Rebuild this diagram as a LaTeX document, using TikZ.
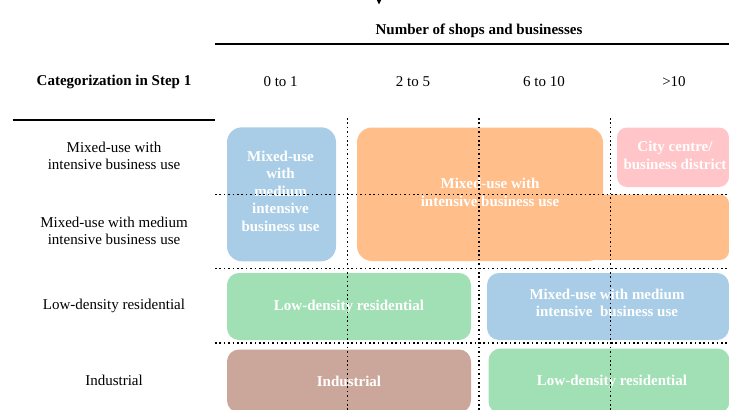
\documentclass[tikz,border=0pt]{standalone}
\usepackage{fontspec}
\setmainfont{Liberation Serif}
\usetikzlibrary{arrows.meta}
\definecolor{zoneblue}{HTML}{A9CDE6}
\definecolor{zoneorange}{HTML}{FFBE8A}
\definecolor{zonepink}{HTML}{FFC5C8}
\definecolor{zonegreen}{HTML}{A1DFB4}
\definecolor{zonebrown}{HTML}{CBA69A}
\begin{document}
\begin{tikzpicture}[x=1pt,y=-1pt,
  lbl/.style={font=\fontsize{15}{17}\selectfont, align=center, inner sep=0pt},
  head/.style={font=\fontsize{15}{17}\selectfont\bfseries, align=center, inner sep=0pt},
  zone/.style={rounded corners=12pt, inner sep=0pt, text=white,
    font=\fontsize{15}{17.5}\selectfont\bfseries, align=center},
  zonetext/.style={inner sep=0pt, text=white,
    font=\fontsize{15}{17.5}\selectfont\bfseries, align=center},
  gridline/.style={line width=1.5pt, dash pattern=on 1.5pt off 2.9pt},
  rule/.style={line width=1.2pt}]
\useasboundingbox (0,0) rectangle (729,410);
\clip (0,0) rectangle (729,410);

% incoming arrow from above
\coordinate (arrfrom) at (379,-12);
\coordinate (arrto) at (379,4.5);
\draw[line width=0.8pt, -{Triangle[width=4pt,length=4.5pt]}] (arrfrom) -- (arrto);

% header texts and rules
\node[head] (title) at (479,31) {Number of shops and businesses};
\coordinate (titleL) at (215,44);
\coordinate (titleR) at (729,44);
\draw[rule] (titleL) -- (titleR);

\node[head] (cat) at (114,82) {Categorization in Step 1};
\node[lbl] (c1) at (280.6,82) {0 to 1};
\node[lbl] (c2) at (413,82) {2 to 5};
\node[lbl] (c3) at (544,82) {6 to 10};
\node[lbl] (c4) at (674,82) {>10};

\coordinate (catL) at (12.7,120);
\coordinate (catR) at (215,120);
\draw[rule] (catL) -- (catR);

% row labels
\node[lbl] (r1) at (114,156) {Mixed-use with\\intensive business use};
\node[lbl] (r2) at (114,231) {Mixed-use with medium\\intensive business use};
\node[lbl] (r3) at (114,306) {Low-density residential};
\node[lbl] (r4) at (114,380) {Industrial};

% zone boxes
\node[zone, fill=zoneblue, minimum width=109pt, minimum height=134pt, rounded corners=15pt]
  (blueA) at (281.5,194.3) {};
\node[zonetext] (blueAT) at (280.5,191) {Mixed-use\\with\\medium\\intensive\\business use};

\node[zone, fill=zoneorange, minimum width=246pt, minimum height=133.5pt, rounded corners=15pt]
  (orangeA) at (480,194.25) {};
\node[zone, fill=zoneorange, minimum width=149pt, minimum height=65.5pt, rounded corners=9pt]
  (orangeB) at (654.5,227.25) {};
\node[zonetext] (orangeT) at (490,192.5) {Mixed-use with\\intensive business use};

\node[zone, fill=zonepink, minimum width=112pt, minimum height=59.5pt, rounded corners=10pt]
  (pink) at (673,157.25) {};
\node[zonetext] (pinkT) at (675,155.5) {City centre/\\business district};

\node[zone, fill=zonegreen, minimum width=244pt, minimum height=67pt]
  (greenA) at (349,306.5) {Low-density residential};
\node[zone, fill=zoneblue, minimum width=242pt, minimum height=67pt]
  (blueB) at (608,306.5) {};
\node[zonetext] (blueBT) at (607,303) {Mixed-use with medium\\intensive\ \ business use};

\node[zone, fill=zonebrown, minimum width=244pt, minimum height=63pt]
  (brown) at (349,381) {Industrial};
\node[zone, fill=zonegreen, minimum width=241pt, minimum height=65pt]
  (greenB) at (609,381) {};
\node[zonetext] (greenBT) at (612,382) {Low-density residential};

% dotted grid drawn over the zones
\foreach \gx/\gn in {347.5/a,478.8/b,610.3/c}{
  \coordinate (v\gn top) at (\gx,118);
  \coordinate (v\gn bot) at (\gx,410);
  \draw[gridline] (v\gn top) -- (v\gn bot);
}
\foreach \gy/\gn in {194.5/a,268.5/b,343/c}{
  \coordinate (h\gn left) at (215,\gy);
  \coordinate (h\gn right) at (729,\gy);
  \draw[gridline] (h\gn left) -- (h\gn right);
}
\end{tikzpicture}
\end{document}
